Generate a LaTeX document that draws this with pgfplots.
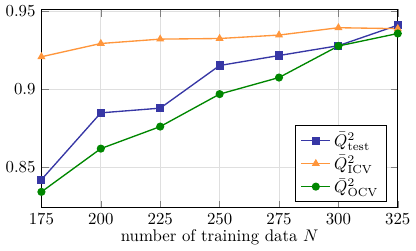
\documentclass[border=0pt]{standalone}
\usepackage{pgfplots}
\pgfplotsset{compat=1.18}
\definecolor{cblue}{RGB}{55,55,165}
\definecolor{corange}{RGB}{255,150,60}
\definecolor{cgreen}{RGB}{0,135,0}
\begin{document}
\begin{tikzpicture}
\begin{axis}[
  scale only axis,
  width=212pt, height=118pt,
  xmin=175, xmax=325, ymin=0.824, ymax=0.951,
  xtick={175,200,225,250,275,300,325},
  ytick={0.85,0.9,0.95},
  grid=major,
  major grid style={gray!25},
  xlabel={number of training data $N$},
  xlabel style={yshift=4pt},
  legend pos=south east,
  legend cell align=left,
]
\addplot[cblue, thick, mark=square*, mark options={solid}] coordinates {
(175,0.842) (200,0.8848) (225,0.8878) (250,0.9151) (275,0.9215) (300,0.9278) (325,0.9409)};
\addlegendentry{$\bar{Q}^2_{\mathrm{test}}$}
\addplot[corange, thick, mark=triangle*] coordinates {
(175,0.9207) (200,0.9292) (225,0.932) (250,0.9324) (275,0.9346) (300,0.9393) (325,0.9387)};
\addlegendentry{$\bar{Q}^2_{\mathrm{ICV}}$}
\addplot[cgreen, thick, mark=*] coordinates {
(175,0.8342) (200,0.8619) (225,0.876) (250,0.8968) (275,0.9074) (300,0.9276) (325,0.9356)};
\addlegendentry{$\bar{Q}^2_{\mathrm{OCV}}$}
\end{axis}
\end{tikzpicture}
\end{document}
